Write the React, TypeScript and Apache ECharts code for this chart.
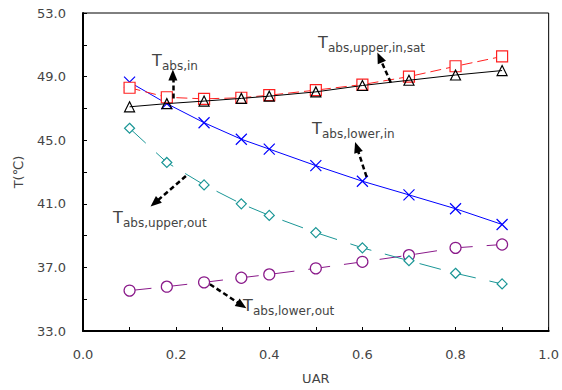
import React, { useEffect, useRef } from "react";
import * as echarts from "echarts";

const uar = [0.1, 0.18, 0.26, 0.34, 0.4, 0.5, 0.6, 0.7, 0.8, 0.9];
const tUpperInSat = [48.3, 47.7, 47.6, 47.67, 47.83, 48.15, 48.5, 49.0, 49.65, 50.27];
const tAbsIn = [47.1, 47.3, 47.46, 47.63, 47.77, 48.04, 48.44, 48.77, 49.1, 49.38];
const tLowerIn = [48.65, 47.3, 46.1, 45.06, 44.44, 43.4, 42.42, 41.56, 40.69, 39.7];
const tUpperOut = [45.75, 43.6, 42.19, 41.0, 40.27, 39.19, 38.23, 37.42, 36.63, 35.96];
const tLowerOut = [35.54, 35.79, 36.06, 36.35, 36.56, 36.94, 37.35, 37.77, 38.23, 38.44];

// annotation arrows (data coords): [x1, y1, x2, y2]
const arrows = [
  [0.193, 47.62, 0.193, 49.1],
  [0.661, 48.62, 0.637, 50.2],
  [0.609, 42.69, 0.588, 44.56],
  [0.221, 42.75, 0.154, 41.05],
  [0.2725, 35.94, 0.341, 34.62],
];
// annotation labels: [main, subscript, left px, center px]
const labels: [string, string, number, number][] = [
  ["T", "abs,in", 152, 60],
  ["T", "abs,upper,in,sat", 318, 42],
  ["T", "abs,lower,in", 312, 128],
  ["T", "abs,upper,out", 113, 217],
  ["T", "abs,lower,out", 243, 305],
];

const FONT = "DejaVu Sans";
const TXT = "#444";

function pair(ys: number[]) {
  return uar.map((x, i) => [x, ys[i]]);
}

export default function App() {
  const ref = useRef<HTMLDivElement>(null);
  useEffect(() => {
    if (!ref.current) return;
    const chart = echarts.init(ref.current, null, { renderer: "svg" });
    const graphic: any[] = [];
    labels.forEach(([m, s, x, y]) => {
      graphic.push({
        type: "text",
        x,
        y,
        style: { text: m, fontSize: 16, fontFamily: FONT, fill: TXT, verticalAlign: "middle", align: "left" },
      });
      graphic.push({
        type: "text",
        x: x + 10,
        y: y + 6,
        style: { text: s, fontSize: 12, fontFamily: FONT, fill: TXT, verticalAlign: "middle", align: "left" },
      });
    });
    chart.setOption({
      animation: false,
      backgroundColor: "#fff",
      grid: { left: 83, right: 13, top: 13, bottom: 57, show: true, borderColor: "#000", borderWidth: 1 },
      xAxis: {
        type: "value",
        min: 0,
        max: 1,
        interval: 0.2,
        name: "UAR",
        nameLocation: "middle",
        nameGap: 41,
        nameTextStyle: { color: TXT, fontSize: 13, fontFamily: FONT },
        axisLine: { show: true, onZero: false, lineStyle: { color: "#000", width: 2 } },
        axisTick: { show: true, inside: true, length: 4, lineStyle: { color: "#000" } },
        minorTick: { show: true, splitNumber: 2, length: 4, lineStyle: { color: "#000" } },
        splitLine: { show: false },
        axisLabel: { color: TXT, fontSize: 13, fontFamily: FONT, margin: 17, formatter: (v: number) => v.toFixed(1) },
      },
      yAxis: {
        type: "value",
        min: 33,
        max: 53,
        interval: 4,
        name: "T(℃)",
        nameLocation: "middle",
        nameGap: 58,
        nameTextStyle: { color: TXT, fontSize: 13, fontFamily: FONT },
        axisLine: { show: true, onZero: false, lineStyle: { color: "#000", width: 2 } },
        axisTick: { show: true, inside: true, length: 4, lineStyle: { color: "#000" } },
        minorTick: { show: true, splitNumber: 2, length: 4, lineStyle: { color: "#000" } },
        splitLine: { show: false },
        axisLabel: { color: TXT, fontSize: 13, fontFamily: FONT, margin: 17, formatter: (v: number) => v.toFixed(1) },
      },
      series: [
        {
          type: "line",
          data: pair(tLowerOut),
          symbol: "circle",
          symbolSize: 11,
          lineStyle: { color: "#8a1a8a", width: 1, type: [22, 14] },
          itemStyle: { color: "#fff", borderColor: "#8a1a8a", borderWidth: 1.2 },
          z: 2,
        },
        {
          type: "line",
          data: pair(tUpperOut),
          symbol: "diamond",
          symbolSize: [10, 10],
          lineStyle: { color: "#1a9696", width: 1, type: [22, 14] },
          itemStyle: { color: "#fff", borderColor: "#1a9696", borderWidth: 1.2 },
          z: 2,
        },
        {
          type: "line",
          data: pair(tLowerIn),
          symbol: "path://M0,0L10,10M0,10L10,0",
          symbolSize: 11,
          lineStyle: { color: "#0000ff", width: 1 },
          itemStyle: { color: "none", borderColor: "#0000ff", borderWidth: 1.2 },
          z: 3,
        },
        {
          type: "line",
          data: pair(tUpperInSat),
          symbol: "rect",
          symbolSize: 11,
          lineStyle: { color: "#ff2020", width: 1, type: [11, 5] },
          itemStyle: { color: "#fff", borderColor: "#ff2020", borderWidth: 1.2 },
          z: 3,
        },
        {
          type: "line",
          data: pair(tAbsIn),
          symbol: "triangle",
          symbolSize: [10, 10],
          lineStyle: { color: "#000", width: 1 },
          itemStyle: { color: "rgba(255,255,255,0)", borderColor: "#000", borderWidth: 1.2 },
          z: 4,
        },
        {
          type: "line",
          data: [],
          z: 5,
          markLine: {
            silent: true,
            animation: false,
            symbol: ["none", "triangle"],
            symbolSize: [9, 11],
            label: { show: false },
            lineStyle: { color: "#000", width: 2.5, type: [5, 3] },
            data: arrows.map(([x1, y1, x2, y2]) => [
              { coord: [x1, y1], symbol: "none" },
              { coord: [x2, y2], symbol: "triangle" },
            ]),
          },
        },
      ],
      graphic,
    });
    return () => chart.dispose();
  }, []);
  return <div ref={ref} style={{ width: 562, height: 390, position: "absolute", left: 0, top: 0 }} />;
}
